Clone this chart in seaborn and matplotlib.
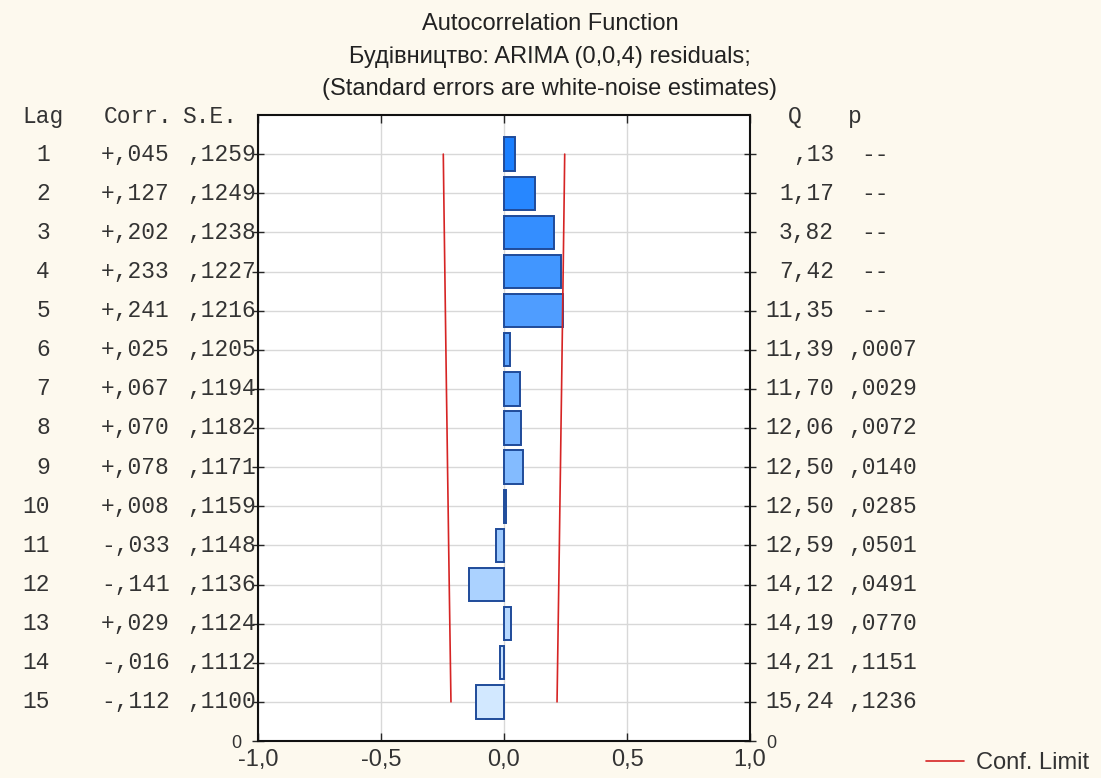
import numpy as np
import pandas as pd
import matplotlib
matplotlib.use("Agg")
import matplotlib.pyplot as plt
import matplotlib.colors as mcolors
import seaborn as sns

# ---------------- data ----------------
lags = list(range(1, 16))
corr = [0.045, 0.127, 0.202, 0.233, 0.241, 0.025, 0.067, 0.070, 0.078,
        0.008, -0.033, -0.141, 0.029, -0.016, -0.112]
se = [0.1259, 0.1249, 0.1238, 0.1227, 0.1216, 0.1205, 0.1194, 0.1182,
      0.1171, 0.1159, 0.1148, 0.1136, 0.1124, 0.1112, 0.1100]
corr_labels = ["+,045", "+,127", "+,202", "+,233", "+,241", "+,025", "+,067",
               "+,070", "+,078", "+,008", "-,033", "-,141", "+,029", "-,016", "-,112"]
se_labels = [",1259", ",1249", ",1238", ",1227", ",1216", ",1205", ",1194",
             ",1182", ",1171", ",1159", ",1148", ",1136", ",1124", ",1112", ",1100"]
q_labels = [",13", "1,17", "3,82", "7,42", "11,35", "11,39", "11,70", "12,06",
            "12,50", "12,50", "12,59", "14,12", "14,19", "14,21", "15,24"]
p_labels = ["--", "--", "--", "--", "--", ",0007", ",0029", ",0072", ",0140",
            ",0285", ",0501", ",0491", ",0770", ",1151", ",1236"]
x_ticks = [-1.0, -0.5, 0.0, 0.5, 1.0]
x_ticklabels = ["-1,0", "-0,5", "0,0", "0,5", "1,0"]
title_lines = ["Autocorrelation Function",
               "Будівництво: ARIMA (0,0,4) residuals;",
               "(Standard errors are white-noise estimates)"]

# ---------------- styling ----------------
W, H = 1101, 778
BG = "#fdf9ee"
sns.set_style("white")
plt.rcParams["font.family"] = ["Liberation Sans", "DejaVu Sans"]
MONO = ["Liberation Mono", "DejaVu Sans Mono"]
TXT = "#333333"

fig = plt.figure(figsize=(W / 100, H / 100), dpi=100, facecolor=BG)
L, R, T, B = 258, 750, 115, 741
ax = fig.add_axes([L / W, 1 - B / H, (R - L) / W, (B - T) / H])
ax.set_facecolor("white")

df = pd.DataFrame({"lag": lags, "corr": corr, "se": se})
df["hue"] = df["lag"].astype(str)
c0 = np.array(mcolors.to_rgb("#1a7fff"))
c1 = np.array(mcolors.to_rgb("#d2e8ff"))
pal = {str(l): tuple(c0 + (c1 - c0) * (i / (len(lags) - 1))) for i, l in enumerate(lags)}

sns.barplot(data=df, x="corr", y="lag", hue="hue", hue_order=[str(l) for l in lags],
            palette=pal, orient="y", native_scale=True, dodge=False, legend=False,
            width=0.85, edgecolor="#1f4b9a", linewidth=1.4, saturation=1, ax=ax,
            zorder=3)

df["upper"] = 1.96 * df["se"]
df["lower"] = -1.96 * df["se"]
sns.lineplot(data=df, x="upper", y="lag", orient="y", sort=False, estimator=None,
             color="#d62424", linewidth=1.2, ax=ax, label="Conf. Limit", zorder=4)
sns.lineplot(data=df, x="lower", y="lag", orient="y", sort=False, estimator=None,
             color="#d62424", linewidth=1.2, ax=ax, zorder=4)

ax.set_xlim(-1, 1)
ax.set_ylim(16, 0)
ax.set_xticks(x_ticks)
ax.set_xticklabels(x_ticklabels, fontsize=17, color=TXT)
ax.set_yticks(list(range(1, 17)))
ax.set_yticklabels([""] * 15 + ["0"], fontsize=13, color=TXT)
ax.tick_params(axis="y", which="both", left=True, right=True, labelleft=True,
               labelright=True, direction="inout", length=8, width=1, pad=8)
ax.tick_params(axis="x", which="both", bottom=True, top=True, direction="in",
               length=6, width=1, pad=6)
ax.set_xlabel("")
ax.set_ylabel("")
ax.grid(True, color="#d8d8d8", linewidth=1, zorder=0)
ax.set_axisbelow(True)
for s in ax.spines.values():
    s.set_color("#111111")
    s.set_linewidth(1.5)

# ---------------- table text ----------------
def fx(px):
    return (px - L) / (R - L)

tr = ax.get_yaxis_transform()
mono_kw = dict(family=MONO, fontsize=16.5, color=TXT, transform=tr, va="center",
               clip_on=False)
hy = 0.05
ax.text(fx(22), hy, "Lag", ha="left", **mono_kw)
ax.text(fx(104), hy, "Corr.", ha="left", **mono_kw)
ax.text(fx(182), hy, "S.E.", ha="left", **mono_kw)
ax.text(fx(788), hy, "Q", ha="left", **mono_kw)
ax.text(fx(848), hy, "p", ha="left", **mono_kw)
for i, l in enumerate(lags):
    ax.text(fx(50), l, str(l), ha="right", **mono_kw)
    ax.text(fx(170), l, corr_labels[i], ha="right", **mono_kw)
    ax.text(fx(256), l, se_labels[i], ha="right", **mono_kw)
    ax.text(fx(834), l, q_labels[i], ha="right", **mono_kw)
    if p_labels[i] == "--":
        ax.text(fx(861), l, p_labels[i], ha="left", **mono_kw)
    else:
        ax.text(fx(917), l, p_labels[i], ha="right", **mono_kw)

# ---------------- titles ----------------
for yy, line in zip([24, 57, 89], title_lines):
    fig.text(550 / W, 1 - yy / H, line, ha="center", va="center", fontsize=17,
             color="#222222")

# ---------------- legend ----------------
ax.legend(loc="center left", bbox_to_anchor=(926 / W, 15 / H),
          bbox_transform=fig.transFigure, frameon=False, fontsize=17,
          handlelength=1.6, handletextpad=0.5, borderaxespad=0, borderpad=0,
          labelcolor=TXT)

fig.savefig("out.png", dpi=100, facecolor=BG)
